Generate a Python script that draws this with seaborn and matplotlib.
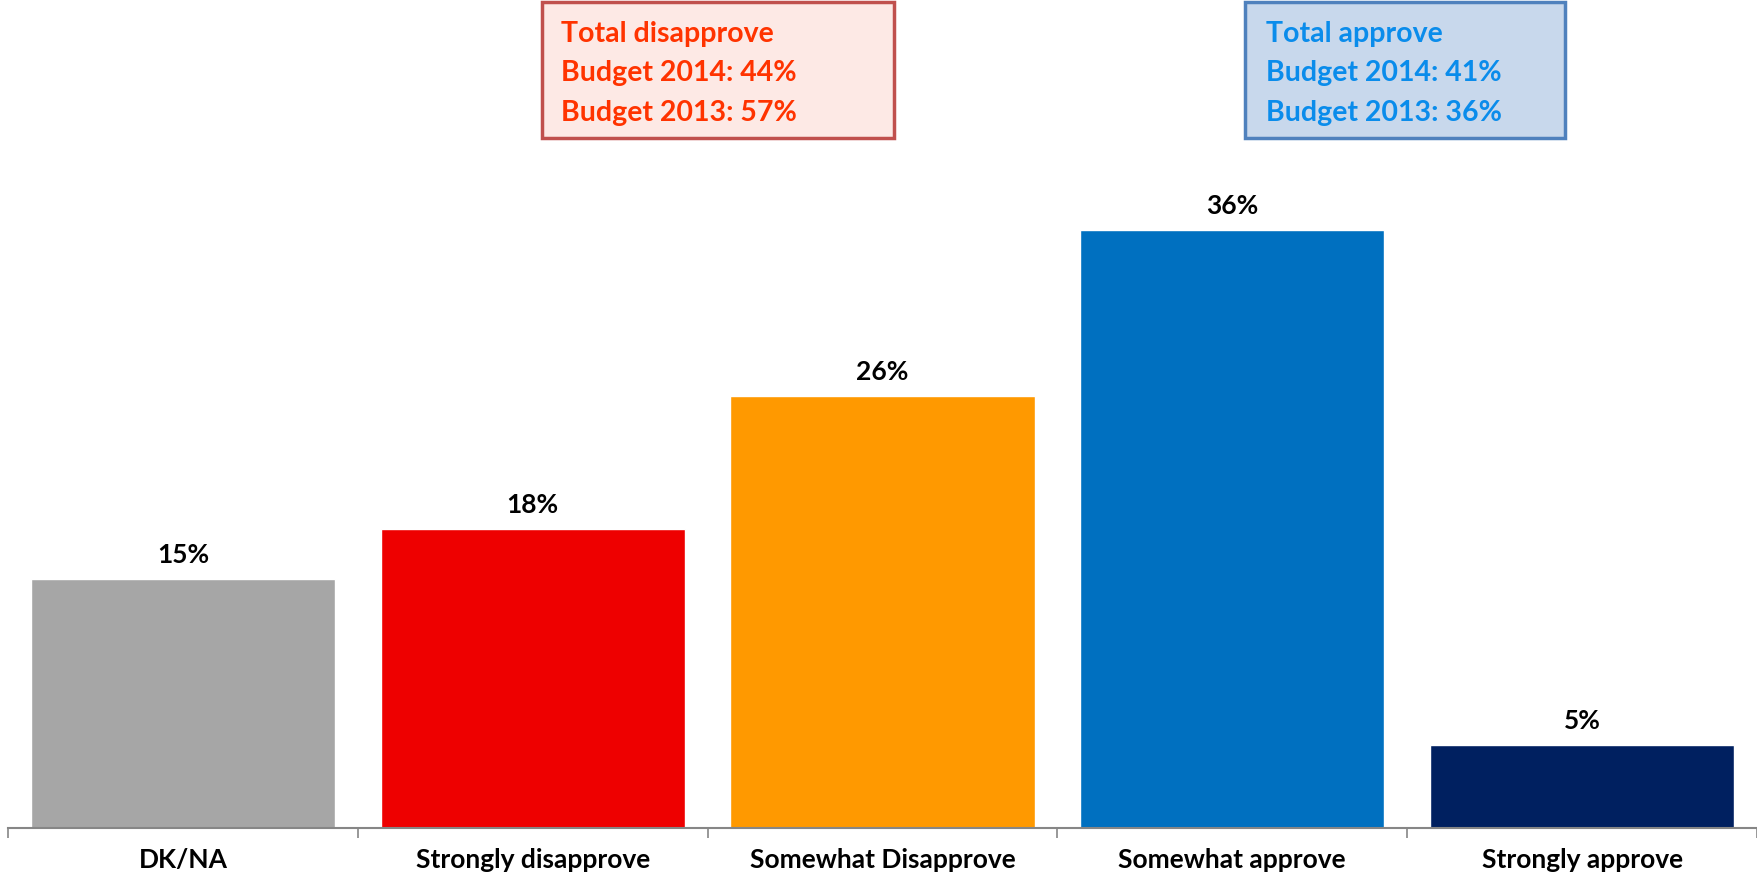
import matplotlib
matplotlib.use("Agg")
import matplotlib.pyplot as plt
import seaborn as sns
import pandas as pd
from matplotlib.patches import Rectangle

categories = ["DK/NA", "Strongly disapprove", "Somewhat Disapprove", "Somewhat approve", "Strongly approve"]
values = [15, 18, 26, 36, 5]
bar_labels = ["15%", "18%", "26%", "36%", "5%"]
colors = ["#A6A6A6", "#EE0000", "#FF9900", "#0070C0", "#002060"]

disapprove_lines = ["Total disapprove", "Budget 2014: 44%", "Budget 2013: 57%"]
approve_lines = ["Total approve", "Budget 2014: 41%", "Budget 2013: 36%"]

sns.set_theme(style="white")
plt.rcParams['font.family'] = ['Lato', 'DejaVu Sans']

W, H = 1757, 879
fig = plt.figure(figsize=(W / 100, H / 100), dpi=100)
ax_left = 8 / W
ax_bottom = 1 - 829 / H
ax_top = 1 - 165 / H
ax = fig.add_axes([ax_left, ax_bottom, 1 - ax_left, ax_top - ax_bottom])

df = pd.DataFrame({"cat": categories, "val": values})
sns.barplot(data=df, x="cat", y="val", hue="cat", palette=colors, legend=False,
            width=0.87, saturation=1, ax=ax)
ax.set_ylim(0, 40)
ax.set_xlim(-0.5, len(categories) - 0.5)
ax.set_xlabel("")
ax.set_ylabel("")
ax.set_yticks([])
for s in ["top", "right", "left"]:
    ax.spines[s].set_visible(False)
ax.spines["bottom"].set_color("#868686")
ax.spines["bottom"].set_linewidth(1.5)

ax.set_xticks(range(len(categories)))
ax.set_xticklabels(categories, fontsize=19, fontweight="bold", color="black")
ax.tick_params(axis="x", which="major", length=0, pad=14)
ax.set_xticks([i - 0.5 for i in range(len(categories) + 1)], minor=True)
ax.tick_params(axis="x", which="minor", length=7, width=1.2, color="#868686", bottom=True)

for i, (v, lab) in enumerate(zip(values, bar_labels)):
    ax.annotate(lab, (i, v), xytext=(0, 18), textcoords="offset points",
                ha="center", va="center", fontsize=19, fontweight="bold", color="black")

def box(x0, x1, y0, y1, face, edge, lines, tcolor, tx):
    fig.patches.append(Rectangle((x0 / W, 1 - y1 / H), (x1 - x0) / W, (y1 - y0) / H,
                                 transform=fig.transFigure, facecolor=face, edgecolor=edge,
                                 linewidth=2.5, zorder=1))
    for k, line in enumerate(lines):
        fig.text(tx / W, 1 - (34 + 39.5 * k) / H, line, ha="left", va="center",
                 fontsize=20.5, fontweight="bold", color=tcolor)

box(542, 894, 3, 139, "#FDE9E5", "#C0504D", disapprove_lines, "#FF3300", 561)
box(1245, 1565, 3, 139, "#C8D8EC", "#4F81BD", approve_lines, "#0A8CEB", 1266)

fig.savefig("out.png", dpi=100)
